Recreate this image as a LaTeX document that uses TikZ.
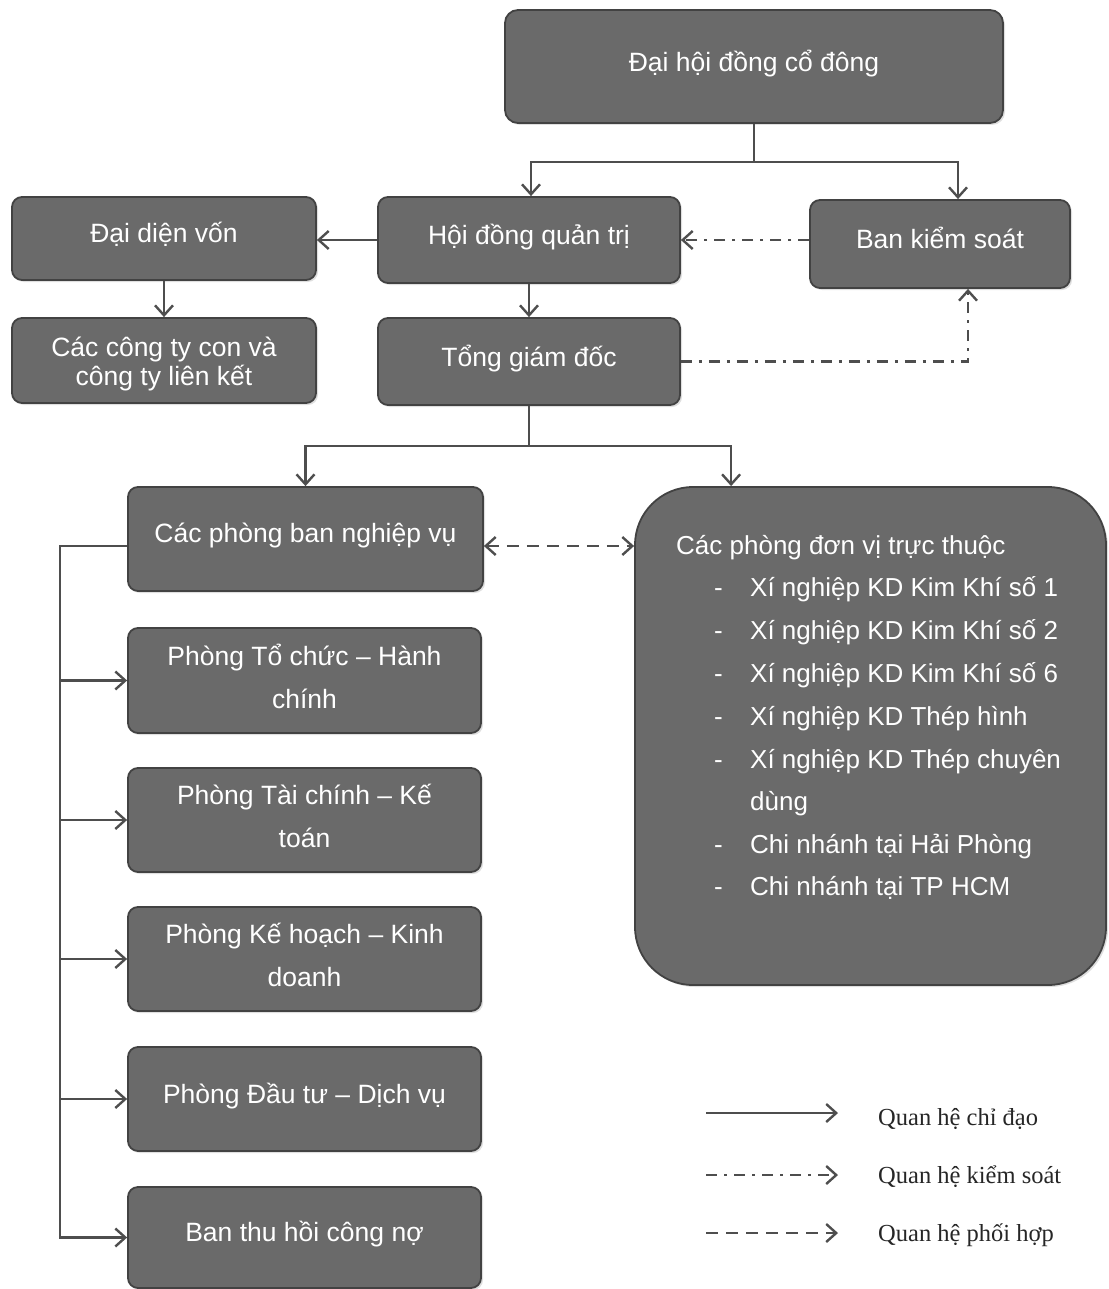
\documentclass[tikz,border=0pt]{standalone}
\usepackage{fontspec}
\setmainfont{Liberation Sans}
\newfontfamily\legendfont{Liberation Serif}
\usetikzlibrary{arrows.meta,shadows}
\definecolor{boxfill}{RGB}{106,106,106}
\definecolor{boxline}{RGB}{66,66,66}
\definecolor{conn}{RGB}{78,78,78}
\newcommand\dstrut[1]{\rule[-#1]{0pt}{#1}}
\newcommand\hstrut[1]{\rule{0pt}{#1}}
\begin{document}
\begin{tikzpicture}[x=1pt,y=-1pt,
  >={Straight Barb[length=10pt,width=18pt]},
  box/.style={rectangle, rounded corners=10pt, draw=boxline, line width=1.8pt,
    fill=boxfill, text=white, font=\fontsize{26.5}{43}\selectfont, align=center,
    inner sep=0pt, drop shadow={opacity=0.25, shadow xshift=2pt, shadow yshift=-2pt}},
  utext/.style={text=white, font=\fontsize{26}{30}\selectfont, inner sep=0pt, anchor=base west},
  legtext/.style={text=black!85, font=\legendfont\fontsize{24.5}{28}\selectfont, inner sep=0pt, anchor=base west},
  chi/.style={draw=conn, line width=2.4pt, ->},
  ks/.style={draw=conn, line width=2.4pt, dash pattern=on 11pt off 7pt on 3pt off 7pt, ->},
  ph/.style={draw=conn, line width=2.4pt, dash pattern=on 12pt off 8pt}
]
\useasboundingbox (0,0) rectangle (1108,1289);

% boxes
\node[box, rounded corners=13pt, minimum width=498, minimum height=113] (dh) at (754,66.5) {Đại hội đồng cổ đông\dstrut{12pt}};
\node[box, minimum width=302, minimum height=86] (hdqt) at (529,240) {Hội đồng quản trị\dstrut{12pt}};
\node[box, minimum width=260, minimum height=88] (bks) at (940,244) {Ban kiểm soát\dstrut{12pt}};
\node[box, minimum width=304, minimum height=83] (ddv) at (164,238.5) {Đại diện vốn\dstrut{12pt}};
\node[box, minimum width=304, minimum height=85, font=\fontsize{26.5}{29}\selectfont] (cty) at (164,360.5) {\hstrut{26pt}Các công ty con và\\công ty liên kết};
\node[box, minimum width=302, minimum height=87] (tgd) at (529,361.5) {Tổng giám đốc\dstrut{12pt}};
\node[box, minimum width=355, minimum height=104] (pb) at (305.5,539) {Các phòng ban nghiệp vụ\dstrut{12pt}};
\node[box, minimum width=353, minimum height=105] (p1) at (304.5,680.5) {Phòng Tổ chức – Hành\\chính\dstrut{9pt}};
\node[box, minimum width=353, minimum height=104] (p2) at (304.5,820) {Phòng Tài chính – Kế\\toán\dstrut{9pt}};
\node[box, minimum width=353, minimum height=104] (p3) at (304.5,959) {Phòng Kế hoạch – Kinh\\doanh\dstrut{9pt}};
\node[box, minimum width=353, minimum height=104] (p4) at (304.5,1099) {Phòng Đầu tư – Dịch vụ\dstrut{12pt}};
\node[box, minimum width=353, minimum height=101] (p5) at (304.5,1237.5) {Ban thu hồi công nợ\dstrut{12pt}};
\node[box, rounded corners=58pt, minimum width=471, minimum height=498] (units) at (870.5,736) {};

% text of the units box
\node[utext] (u0) at (676,554) {Các phòng đơn vị trực thuộc};
\node[utext] (d1) at (714,596) {-};
\node[utext] (u1) at (750,596) {Xí nghiệp KD Kim Khí số 1};
\node[utext] (d2) at (714,639) {-};
\node[utext] (u2) at (750,639) {Xí nghiệp KD Kim Khí số 2};
\node[utext] (d3) at (714,682) {-};
\node[utext] (u3) at (750,682) {Xí nghiệp KD Kim Khí số 6};
\node[utext] (d4) at (714,725) {-};
\node[utext] (u4) at (750,725) {Xí nghiệp KD Thép hình};
\node[utext] (d5) at (714,768) {-};
\node[utext] (u5) at (750,768) {Xí nghiệp KD Thép chuyên};
\node[utext] (u5b) at (750,810) {dùng};
\node[utext] (d6) at (714,853) {-};
\node[utext] (u6) at (750,853) {Chi nhánh tại Hải Phòng};
\node[utext] (d7) at (714,895) {-};
\node[utext] (u7) at (750,895) {Chi nhánh tại TP HCM};

% connectors
\coordinate (j1) at (754,162);
\draw[chi] (dh.south) -- (j1) -| ([xshift=2]hdqt.north);
\draw[chi] (j1) -| ([xshift=18]bks.north);
\draw[chi] (hdqt.west) -- (hdqt.west -| ddv.east);
\draw[chi] (hdqt.south) -- (tgd.north);
\draw[chi] (ddv.south) -- (cty.north);
\draw[ks] ([yshift=4]bks.west) -- ([yshift=4]bks.west -| hdqt.east);
\draw[ks] (tgd.east) -| ([xshift=28]bks.south);
\coordinate (j2) at (529,446);
\draw[chi] (tgd.south) -- (j2) -| (pb.north);
\draw[chi] (j2) -| ([xshift=97]units.north west);
\draw[ph, <->] ([yshift=-7]pb.east) -- ([yshift=-7]pb.east -| units.west);
\coordinate (bus) at (60,546);
\draw[chi] ([yshift=-7]pb.west) -- (bus) |- (p5.west);
\foreach \n in {p1,p2,p3,p4}
  \draw[chi] (bus |- \n.west) -- (\n.west);

% legend
\coordinate (la1) at (706,1113);
\coordinate (lb1) at (838,1113);
\coordinate (la2) at (706,1175);
\coordinate (lb2) at (838,1175);
\coordinate (la3) at (706,1233);
\coordinate (lb3) at (838,1233);
\draw[chi] (la1) -- (lb1);
\draw[ks] (la2) -- (lb2);
\draw[ph, ->] (la3) -- (lb3);
\node[legtext] (lt1) at (878,1125) {Quan hệ chỉ đạo};
\node[legtext] (lt2) at (878,1183) {Quan hệ kiểm soát};
\node[legtext] (lt3) at (878,1241) {Quan hệ phối hợp};
\end{tikzpicture}
\end{document}
